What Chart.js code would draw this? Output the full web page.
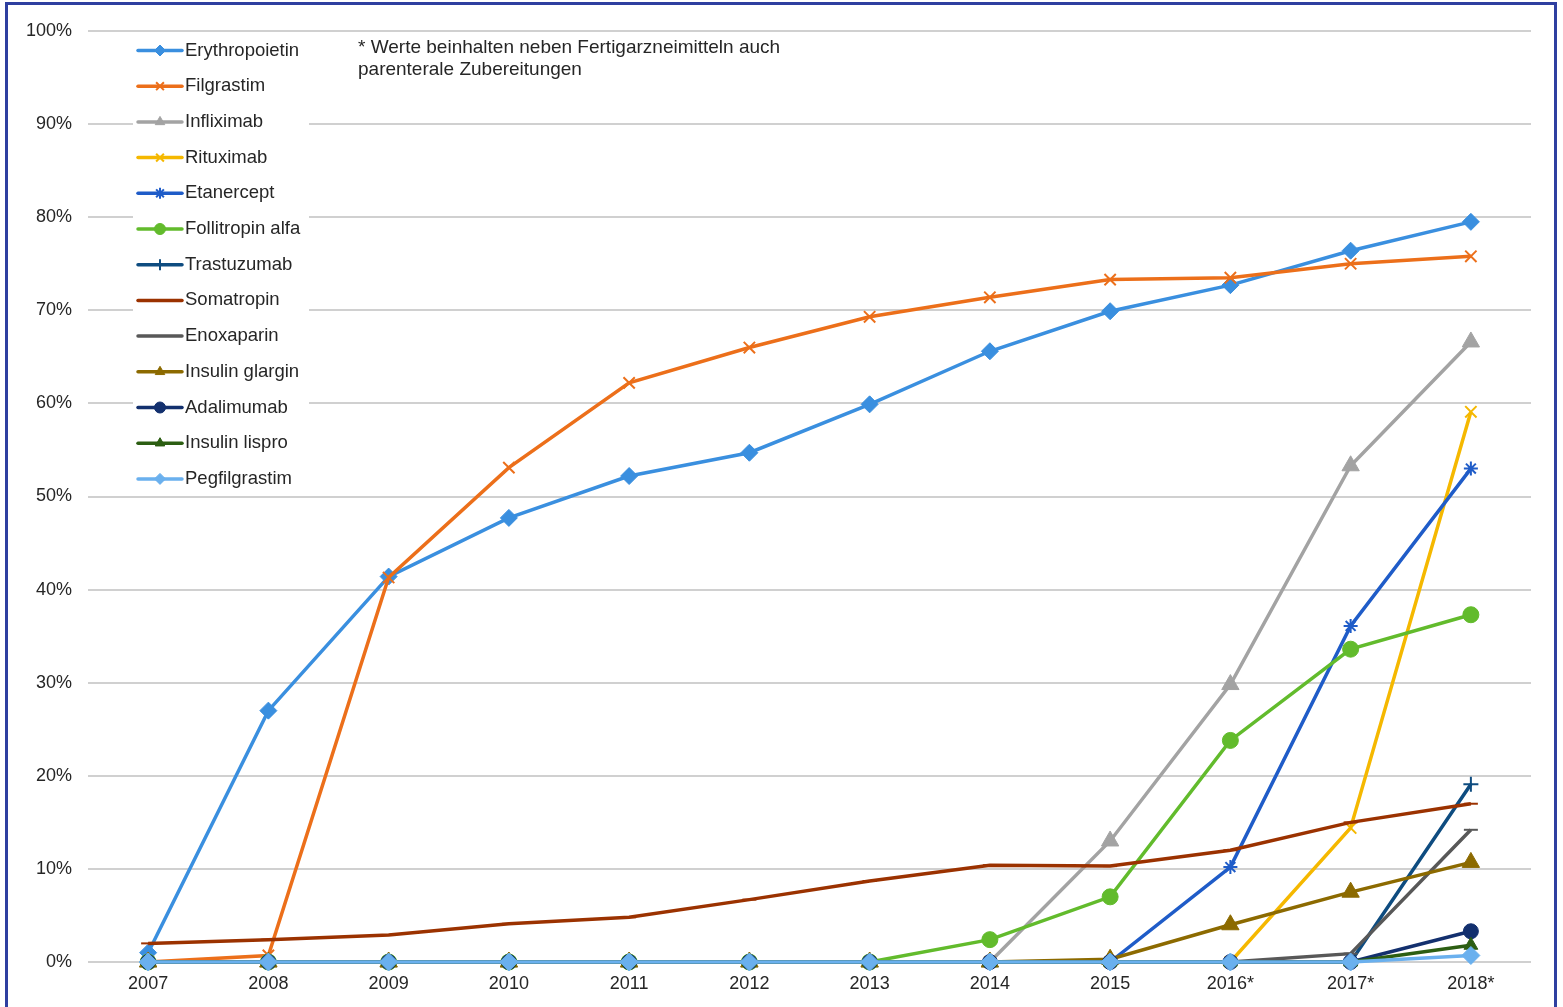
<!DOCTYPE html>
<html lang="de">
<head>
<meta charset="utf-8">
<title>Biosimilar-Anteile 2007–2018</title>
<script src="https://cdn.jsdelivr.net/npm/chart.js@4/dist/chart.umd.min.js"></script>
<style>
  html, body { margin: 0; padding: 0; background: #fff; }
  #wrap { position: relative; width: 1563px; height: 1007px; overflow: hidden; }
  #c { position: absolute; left: 0; top: 0; }
  #frame {
    position: absolute; left: 5px; top: 2px; width: 1546px; height: 1020px;
    border: 3px solid #2F3FA0; pointer-events: none;
  }
</style>
</head>
<body>
<div id="wrap">
  <canvas id="c" width="1563" height="1007"></canvas>
  <div id="frame"></div>
</div>
<script>
// Years on the x axis (* = incl. parenteral preparations)
const years = ['2007', '2008', '2009', '2010', '2011', '2012', '2013', '2014', '2015', '2016*', '2017*', '2018*'];

// Share per active substance, percent
const erythropoietin = [1.0, 27.0, 41.4, 47.7, 52.2, 54.7, 59.9, 65.6, 69.9, 72.7, 76.4, 79.5];
const filgrastim     = [0.0, 0.7, 41.3, 53.1, 62.2, 66.0, 69.3, 71.4, 73.3, 73.5, 75.0, 75.8];
const infliximab     = [0, 0, 0, 0, 0, 0, 0, 0, 13.0, 29.8, 53.3, 66.6];
const rituximab      = [0, 0, 0, 0, 0, 0, 0, 0, 0, 0, 14.4, 59.1];
const etanercept     = [0, 0, 0, 0, 0, 0, 0, 0, 0, 10.2, 36.1, 53.0];
const follitropin    = [0, 0, 0, 0, 0, 0, 0, 2.4, 7.0, 23.8, 33.6, 37.3];
const trastuzumab    = [0, 0, 0, 0, 0, 0, 0, 0, 0, 0, 0, 19.1];
const somatropin     = [2.0, 2.4, 2.9, 4.1, 4.8, 6.7, 8.7, 10.4, 10.3, 12.0, 15.0, 17.0];
const enoxaparin     = [0, 0, 0, 0, 0, 0, 0, 0, 0, 0, 0.9, 14.2];
const insulinGlargin = [0, 0, 0, 0, 0, 0, 0, 0, 0.3, 4.0, 7.5, 10.7];
const adalimumab     = [0, 0, 0, 0, 0, 0, 0, 0, 0, 0, 0, 3.3];
const insulinLispro  = [0, 0, 0, 0, 0, 0, 0, 0, 0, 0, 0, 1.8];
const pegfilgrastim  = [0, 0, 0, 0, 0, 0, 0, 0, 0, 0, 0, 0.7];

const yTicks = [0, 10, 20, 30, 40, 50, 60, 70, 80, 90, 100];

const noteLines = ['* Werte beinhalten neben Fertigarzneimitteln auch', 'parenterale Zubereitungen'];

const FONT = '"Liberation Sans", Arial, sans-serif';
const TEXT = '#262626';

const seriesDefs = [
  { label: 'Erythropoietin',   data: erythropoietin, color: '#3A8FDF', marker: 'rectRot',  r: 8.5 },
  { label: 'Filgrastim',       data: filgrastim,     color: '#EC6F1A', marker: 'crossRot', r: 8 },
  { label: 'Infliximab',       data: infliximab,     color: '#A3A3A3', marker: 'triangle', r: 10 },
  { label: 'Rituximab',        data: rituximab,      color: '#F5B800', marker: 'crossRot', r: 8 },
  { label: 'Etanercept',       data: etanercept,     color: '#1F5CC8', marker: 'star',     r: 7 },
  { label: 'Follitropin alfa', data: follitropin,    color: '#62BB2C', marker: 'circle',   r: 8 },
  { label: 'Trastuzumab',      data: trastuzumab,    color: '#0E4C80', marker: 'cross',    r: 7.5 },
  { label: 'Somatropin',       data: somatropin,     color: '#9B3200', marker: 'line',     r: 7 },
  { label: 'Enoxaparin',       data: enoxaparin,     color: '#585858', marker: 'line',     r: 7 },
  { label: 'Insulin glargin',  data: insulinGlargin, color: '#8C6A00', marker: 'triangle', r: 10 },
  { label: 'Adalimumab',       data: adalimumab,     color: '#13306E', marker: 'circle',   r: 7.5 },
  { label: 'Insulin lispro',   data: insulinLispro,  color: '#2C5E12', marker: 'triangle', r: 8 },
  { label: 'Pegfilgrastim',    data: pegfilgrastim,  color: '#6AB0EE', marker: 'rectRot',  r: 9 }
];

const isOpenMarker = m => m === 'crossRot' || m === 'cross' || m === 'star' || m === 'line';

const datasets = seriesDefs.map((s, i) => ({
  label: s.label,
  data: s.data,
  borderColor: s.color,
  backgroundColor: s.color,
  borderWidth: 3.5,
  tension: 0,
  clip: false,
  pointStyle: s.marker,
  pointRadius: s.r,
  pointHoverRadius: s.r,
  pointBackgroundColor: s.color,
  pointBorderColor: s.color,
  pointBorderWidth: isOpenMarker(s.marker) ? 2 : 1,
  order: -i   // later series are painted on top
}));

// In-plot legend (line sample with marker on a white box) and footnote
const insideLegend = {
  id: 'insideLegend',
  afterDatasetsDraw(chart) {
    const ctx = chart.ctx;
    ctx.save();
    ctx.fillStyle = '#ffffff';
    ctx.fillRect(133, 35, 176, 460);
    const x0 = 138, x1 = 182, tx = 185, y0 = 50.5, step = 35.7;
    seriesDefs.forEach((s, i) => {
      const y = y0 + i * step;
      ctx.strokeStyle = s.color;
      ctx.fillStyle = s.color;
      ctx.lineWidth = 3.5;
      ctx.lineCap = 'round';
      ctx.beginPath();
      ctx.moveTo(x0, y);
      ctx.lineTo(x1, y);
      ctx.stroke();
      if (s.marker !== 'line') {
        const open = isOpenMarker(s.marker);
        ctx.lineWidth = open ? 2 : 1;
        ctx.lineCap = 'butt';
        Chart.helpers.drawPoint(ctx, {
          pointStyle: s.marker, radius: 5.5, rotation: 0, borderWidth: ctx.lineWidth
        }, (x0 + x1) / 2, y);
      }
      ctx.fillStyle = TEXT;
      ctx.font = '18.5px ' + FONT;
      ctx.textBaseline = 'middle';
      ctx.textAlign = 'left';
      ctx.fillText(s.label, tx, y);
    });
    ctx.fillStyle = TEXT;
    ctx.font = '19px ' + FONT;
    ctx.textBaseline = 'middle';
    noteLines.forEach((t, i) => ctx.fillText(t, 358, 48 + i * 22));
    ctx.restore();
  }
};

new Chart(document.getElementById('c'), {
  type: 'line',
  data: { labels: years, datasets },
  options: {
    responsive: false,
    animation: false,
    events: [],
    layout: { padding: { top: 31, right: 32, left: 0, bottom: 0 } },
    plugins: {
      legend: { display: false },
      tooltip: { enabled: false }
    },
    scales: {
      x: {
        offset: true,
        grid: { display: false, drawTicks: false },
        border: { display: false },
        ticks: {
          color: TEXT,
          font: { family: FONT, size: 18 },
          padding: 11,
          maxRotation: 0,
          autoSkip: false
        },
        afterFit(scale) { scale.height = 45; }
      },
      y: {
        min: 0,
        max: 100,
        afterBuildTicks(scale) { scale.ticks = yTicks.map(v => ({ value: v })); },
        grid: { color: '#D0D0D0', lineWidth: 2, drawTicks: false },
        border: { display: false },
        ticks: {
          color: TEXT,
          font: { family: FONT, size: 18 },
          padding: 16,
          callback: v => v + '%'
        },
        afterFit(scale) { scale.width = 88; }
      }
    }
  },
  plugins: [insideLegend]
});
</script>
</body>
</html>
